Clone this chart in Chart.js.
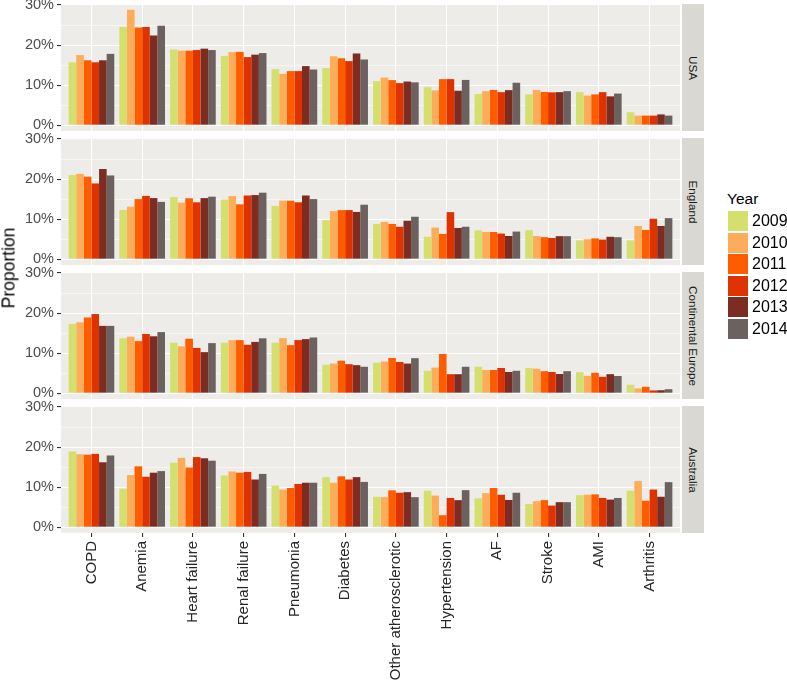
<!DOCTYPE html>
<html>
<head>
    <title>Proportion by year</title>
    <meta http-equiv="content-type" content="text/html;charset=UTF-8">
    <script src="https://cdn.jsdelivr.net/npm/chart.js"></script>
    <style>
        html, body {
            margin: 0;
            padding: 0;
            background: #fff;
            font-family: "Liberation Sans", Arial, sans-serif;
        }

        #wrap {
            position: relative;
            width: 787px;
            height: 685px;
            overflow: hidden;
        }

        .panel {
            position: absolute;
            left: 0;
        }

        .strip {
            position: absolute;
            left: 682px;
            width: 22px;
            height: 127px;
            background: #dad8d3;
        }

        .strip span {
            position: absolute;
            left: 50%;
            top: 50%;
            transform: translate(-50%, -50%) rotate(90deg);
            white-space: nowrap;
            font-size: 11.7px;
            color: #1a1a1a;
        }

        #ytitle {
            position: absolute;
            left: 9px;
            top: 268px;
            transform: translate(-50%, -50%) rotate(-90deg);
            font-size: 17.5px;
            color: #000;
            white-space: nowrap;
        }

        #legend {
            position: absolute;
            left: 727px;
            top: 190px;
        }

        #legend .title {
            font-size: 15.5px;
            color: #000;
            height: 21px;
        }

        .key {
            position: relative;
            height: 21.6px;
        }

        .key i {
            position: absolute;
            left: 1px;
            top: 0;
            width: 20px;
            height: 20px;
        }

        .key span {
            position: absolute;
            left: 25px;
            top: 0;
            line-height: 20px;
            font-size: 16px;
            color: #000;
        }
    </style>
</head>
<body>
<div id="wrap">
    <!-- each canvas is 10px taller than its panel on both sides so the tick labels are not clipped -->
    <canvas class="panel" id="usa" width="680" height="147" style="top:-6px"></canvas>
    <canvas class="panel" id="england" width="680" height="147" style="top:128px"></canvas>
    <canvas class="panel" id="europe" width="680" height="147" style="top:262px"></canvas>
    <canvas class="panel" id="australia" width="680" height="289" style="top:396px"></canvas>
    <div id="strips"></div>
    <div id="ytitle">Proportion</div>
    <div id="legend"><div class="title">Year</div></div>
</div>
<script>
    // categories on the x axis
    const categories = ['COPD', 'Anemia', 'Heart failure', 'Renal failure', 'Pneumonia', 'Diabetes',
        'Other atherosclerotic', 'Hypertension', 'AF', 'Stroke', 'AMI', 'Arthritis'];
    const years = ['2009', '2010', '2011', '2012', '2013', '2014'];
    const yearColors = ['#d5df6e', '#fdad5a', '#ff5c00', '#de3300', '#7b2c23', '#6b625f'];
    const regions = ['USA', 'England', 'Continental Europe', 'Australia'];
    const yTicks = [0, 5, 10, 15, 20, 25, 30];

    // one row per category, values 2009..2014 (%)
    const usaValues = [
        [15.7, 17.5, 16.2, 15.7, 16.2, 17.8],
        [24.5, 28.8, 24.4, 24.5, 22.4, 24.8],
        [18.9, 18.6, 18.6, 18.75, 19.1, 18.75],
        [17.3, 18.25, 18.3, 17.0, 17.6, 18.0],
        [14.0, 12.8, 13.5, 13.5, 14.75, 13.9],
        [14.25, 17.2, 16.7, 16.0, 17.9, 16.4],
        [11.0, 11.9, 11.25, 10.5, 10.9, 10.7],
        [9.5, 8.7, 11.5, 11.5, 8.6, 11.3],
        [7.8, 8.5, 8.8, 8.25, 8.75, 10.6],
        [7.7, 8.8, 8.3, 8.2, 8.25, 8.5],
        [8.25, 7.4, 7.7, 8.25, 7.2, 7.9],
        [3.25, 2.4, 2.4, 2.4, 2.7, 2.4]
    ];
    const englandValues = [
        [21.0, 21.3, 20.6, 18.9, 22.5, 20.9],
        [12.3, 13.1, 15.0, 15.8, 15.25, 14.3],
        [15.5, 14.1, 15.2, 14.2, 15.25, 15.6],
        [14.9, 15.75, 13.7, 15.9, 16.0, 16.6],
        [13.3, 14.6, 14.6, 14.2, 15.9, 15.0],
        [9.75, 12.0, 12.25, 12.25, 11.8, 13.6],
        [8.8, 9.3, 8.8, 8.1, 9.6, 10.6],
        [5.6, 7.9, 6.3, 11.75, 7.8, 8.1],
        [7.2, 6.8, 6.8, 6.4, 5.8, 6.9],
        [7.25, 5.8, 5.5, 5.3, 5.75, 5.75],
        [4.7, 5.0, 5.2, 4.9, 5.6, 5.5],
        [4.7, 8.3, 7.3, 10.1, 8.3, 10.25]
    ];
    const europeValues = [
        [17.3, 17.7, 18.9, 19.75, 16.8, 16.8],
        [13.7, 14.1, 13.0, 14.8, 14.2, 15.25],
        [12.6, 11.7, 13.6, 11.3, 10.25, 12.5],
        [12.6, 13.25, 13.25, 12.1, 12.8, 13.7],
        [12.6, 13.75, 12.0, 13.25, 13.5, 13.9],
        [7.1, 7.4, 8.1, 7.25, 7.0, 6.6],
        [7.6, 7.9, 8.8, 7.8, 7.4, 8.75],
        [5.6, 6.4, 9.8, 4.75, 4.75, 6.6],
        [6.6, 5.8, 5.8, 6.3, 5.3, 5.6],
        [6.3, 6.1, 5.5, 5.3, 4.8, 5.5],
        [5.25, 4.3, 5.1, 4.1, 4.75, 4.3],
        [2.1, 1.2, 1.6, 0.7, 0.75, 1.0]
    ];
    const australiaValues = [
        [18.9, 18.2, 18.1, 18.3, 16.2, 17.9],
        [9.6, 13.0, 15.2, 12.6, 13.6, 14.0],
        [16.1, 17.3, 14.9, 17.5, 17.2, 16.6],
        [12.9, 13.9, 13.6, 13.8, 11.9, 13.3],
        [10.4, 9.4, 9.8, 10.8, 11.1, 11.1],
        [12.5, 11.1, 12.7, 11.9, 12.5, 11.3],
        [7.6, 7.5, 9.2, 8.6, 8.75, 7.5],
        [9.1, 7.9, 3.0, 7.3, 6.75, 9.25],
        [7.2, 8.5, 9.8, 8.1, 6.8, 8.6],
        [5.8, 6.5, 6.75, 5.4, 6.25, 6.25],
        [8.0, 8.1, 8.2, 7.3, 6.9, 7.3],
        [9.1, 11.5, 6.6, 9.4, 7.6, 11.25]
    ];

    const fontFamily = '"Liberation Sans", Arial, sans-serif';

    // grey panel background behind the grid
    const panelBg = {
        id: 'panelBg',
        beforeDraw(chart) {
            const a = chart.chartArea;
            const c = chart.ctx;
            c.save();
            c.fillStyle = '#edece8';
            c.fillRect(a.left, a.top, a.right - a.left, a.bottom - a.top);
            c.restore();
        }
    };

    function isMajor(ctx) {
        return ctx.tick && ctx.tick.value % 10 === 0;
    }

    function makePanel(canvasId, values, showX) {
        return new Chart(document.getElementById(canvasId), {
            type: 'bar',
            data: {
                datasets: years.map((yr, j) => ({
                    label: yr,
                    data: categories.map((c, i) => ({x: i, y: values[i][j]})),
                    backgroundColor: yearColors[j],
                    borderWidth: 0,
                    categoryPercentage: 0.9,
                    barPercentage: 1.0
                }))
            },
            options: {
                responsive: false,
                animation: false,
                layout: {padding: {top: 10, bottom: showX ? 0 : 10, left: 0, right: 0}},
                plugins: {
                    legend: {display: false},
                    tooltip: {enabled: false}
                },
                scales: {
                    x: {
                        type: 'linear',
                        min: -0.6,
                        max: 11.6,
                        offset: false,
                        afterBuildTicks: s => {
                            s.ticks = categories.map((c, i) => ({value: i}));
                        },
                        afterFit: s => {
                            s.height = showX ? 152 : 0;
                            s.paddingLeft = 0;
                            s.paddingRight = 0;
                        },
                        border: {display: false},
                        grid: {
                            offset: false,
                            color: '#ffffff',
                            lineWidth: 1.1,
                            drawTicks: showX,
                            tickLength: 4,
                            tickColor: '#333333',
                            tickWidth: 1.1
                        },
                        ticks: {
                            display: showX,
                            autoSkip: false,
                            minRotation: 90,
                            maxRotation: 90,
                            padding: 4,
                            color: '#262626',
                            font: {family: fontFamily, size: 15},
                            callback: v => categories[v]
                        }
                    },
                    y: {
                        min: -1.44,
                        max: 30.24,
                        afterBuildTicks: s => {
                            s.ticks = yTicks.map(v => ({value: v}));
                        },
                        afterFit: s => {
                            s.width = 61;
                            s.paddingTop = 0;
                            s.paddingBottom = 0;
                        },
                        border: {display: false},
                        grid: {
                            color: '#ffffff',
                            lineWidth: ctx => isMajor(ctx) ? 1.1 : 0.55,
                            tickLength: 4,
                            tickColor: ctx => isMajor(ctx) ? '#333333' : 'rgba(0,0,0,0)',
                            tickWidth: 1.1
                        },
                        ticks: {
                            padding: 3,
                            color: '#4d4d4d',
                            font: {family: fontFamily, size: 14.5},
                            callback: v => v % 10 === 0 ? v + '%' : ''
                        }
                    }
                }
            },
            plugins: [panelBg]
        });
    }

    makePanel('usa', usaValues, false);
    makePanel('england', englandValues, false);
    makePanel('europe', europeValues, false);
    makePanel('australia', australiaValues, true);

    // facet strips on the right
    const stripTops = [4, 138, 272, 406];
    const strips = document.getElementById('strips');
    regions.forEach((r, i) => {
        const d = document.createElement('div');
        d.className = 'strip';
        d.style.top = stripTops[i] + 'px';
        d.innerHTML = '<span>' + r + '</span>';
        strips.appendChild(d);
    });

    // legend
    const legend = document.getElementById('legend');
    years.forEach((yr, j) => {
        const k = document.createElement('div');
        k.className = 'key';
        k.innerHTML = '<i style="background:' + yearColors[j] + '"></i><span>' + yr + '</span>';
        legend.appendChild(k);
    });
</script>
</body>
</html>
